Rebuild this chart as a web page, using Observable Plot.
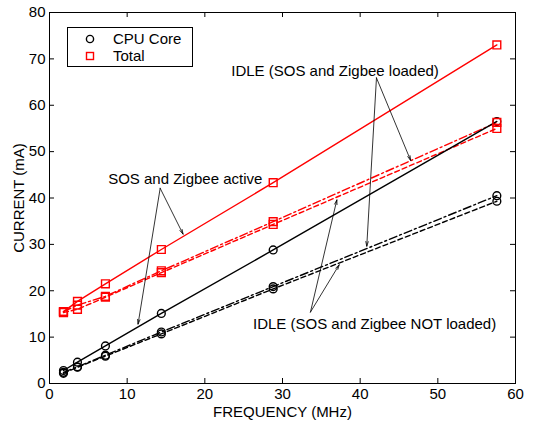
<!DOCTYPE html>
<html>
<head>
<meta charset="utf-8">
<script src="https://cdn.jsdelivr.net/npm/d3@7"></script>
<script src="https://cdn.jsdelivr.net/npm/@observablehq/plot@0.6"></script>
<style>
  html, body { margin: 0; padding: 0; background: #fff; }
  #wrap { position: relative; width: 533px; height: 422px; font-family: "Liberation Sans", Arial, sans-serif; }
  #legend { position: absolute; left: 67px; top: 27px; width: 124px; height: 38px; border: 1px solid #000; background: #fff; font-size: 15px; }
  .row { position: absolute; left: 0; height: 17px; line-height: 17px; }
  .row svg { position: absolute; left: 17px; top: 4px; }
  .row span { position: absolute; left: 45px; white-space: nowrap; }
</style>
</head>
<body>
<div id="wrap">
  <div id="chart"></div>
  <div id="legend">
    <div class="row" style="top:2px"><svg width="10" height="10"><circle cx="5" cy="5" r="3.6" fill="none" stroke="#000" stroke-width="1.4"/></svg><span>CPU Core</span></div>
    <div class="row" style="top:19px"><svg width="10" height="10"><rect x="1.5" y="1.5" width="7" height="7" fill="none" stroke="#ff0000" stroke-width="1.4"/></svg><span>Total</span></div>
  </div>
</div>
<script>
// ---- data ----
const freq = [1.8, 3.6, 7.2, 14.4, 28.8, 57.6];
const totalActive        = [15.5, 17.7, 21.5, 28.9, 43.3, 73.0];
const totalIdleLoaded    = [15.5, 16.9, 18.8, 24.3, 34.9, 56.3];
const totalIdleNotLoaded = [15.3, 16.0, 18.6, 23.9, 34.3, 55.0];
const cpuActive          = [2.8, 4.6, 8.1, 15.1, 28.8, 56.5];
const cpuIdleLoaded      = [2.4, 3.6, 6.1, 11.1, 20.9, 40.5];
const cpuIdleNotLoaded   = [2.2, 3.5, 5.9, 10.7, 20.4, 39.3];
const xTicks = [0, 10, 20, 30, 40, 50, 60];
const yTicks = [0, 10, 20, 30, 40, 50, 60, 70, 80];

const labelTexts = ["IDLE (SOS and Zigbee loaded)", "SOS and Zigbee active", "IDLE (SOS and Zigbee NOT loaded)"];
const labelX = [23.4, 7.55, 26.2];
const labelY = [67.3, 44.0, 12.8];
const arrowX1 = [14.25, 14.25, 42.1, 42.1, 33.6, 33.6];
const arrowY1 = [42.1, 42.1, 65.9, 65.9, 15.4, 15.4];
const arrowX2 = [11.4, 17.2, 46.5, 40.85, 37.0, 37.3];
const arrowY2 = [12.8, 32.2, 48.1, 29.6, 39.6, 25.6];

// ---- build tables ----
const seriesDefs = [
  {name: "totalActive", values: totalActive, group: "total", style: "solid"},
  {name: "totalIdleLoaded", values: totalIdleLoaded, group: "total", style: "dashdot"},
  {name: "totalIdleNotLoaded", values: totalIdleNotLoaded, group: "total", style: "dashed"},
  {name: "cpuActive", values: cpuActive, group: "cpu", style: "solid"},
  {name: "cpuIdleLoaded", values: cpuIdleLoaded, group: "cpu", style: "dashdot"},
  {name: "cpuIdleNotLoaded", values: cpuIdleNotLoaded, group: "cpu", style: "dashed"}
];
const colorOf = {total: "#ff0000", cpu: "#000000"};
const dashOf = {solid: null, dashed: "5,3", dashdot: "8,3,2,3"};
const rows = seriesDefs.flatMap(s => freq.map((f, i) => ({series: s.name, group: s.group, f, v: s.values[i]})));
const labels = labelTexts.map((t, i) => ({t, x: labelX[i], y: labelY[i]}));
const arrows = arrowX1.map((_, i) => ({x1: arrowX1[i], y1: arrowY1[i], x2: arrowX2[i], y2: arrowY2[i]}));

const W = 533, H = 422, mT = 12, mB = 39, mL = 49, mR = 18;
const fh = H - mT - mB, fw = W - mL - mR;
const tk = 5;

const marks = [
  Plot.frame({stroke: "#000", strokeWidth: 1}),
  Plot.tickX(xTicks.slice(1, -1), {x: d => d, insetTop: fh - tk, stroke: "#000"}),
  Plot.tickX(xTicks.slice(1, -1), {x: d => d, insetBottom: fh - tk, stroke: "#000"}),
  Plot.tickY(yTicks.slice(1, -1), {y: d => d, insetRight: fw - tk, stroke: "#000"}),
  Plot.tickY(yTicks.slice(1, -1), {y: d => d, insetLeft: fw - tk, stroke: "#000"}),
  Plot.axisX(xTicks, {anchor: "bottom", tickSize: 0, tickPadding: 5, label: null}),
  Plot.axisY(yTicks, {anchor: "left", tickSize: 0, tickPadding: 4, label: null}),
  Plot.text(["FREQUENCY (MHz)"], {frameAnchor: "bottom", dy: 29, lineAnchor: "middle", textAnchor: "middle", fontSize: 15}),
  Plot.text(["CURRENT (mA)"], {frameAnchor: "left", dx: -30, rotate: -90, textAnchor: "middle", lineAnchor: "middle", fontSize: 15})
];
for (const s of seriesDefs) {
  marks.push(Plot.line(rows.filter(r => r.series === s.name), {
    x: "f", y: "v", stroke: colorOf[s.group], strokeWidth: 1.4,
    strokeDasharray: dashOf[s.style]
  }));
}
marks.push(
  Plot.dot(rows.filter(r => r.group === "cpu"), {x: "f", y: "v", r: 3.9, stroke: colorOf.cpu, fill: "none", strokeWidth: 1.4}),
  Plot.dot(rows.filter(r => r.group === "total"), {x: "f", y: "v", r: 4.4, symbol: "square", stroke: colorOf.total, fill: "none", strokeWidth: 1.4}),
  Plot.arrow(arrows, {x1: "x1", y1: "y1", x2: "x2", y2: "y2", stroke: "#000", strokeWidth: 0.8, headLength: 9, headAngle: 30, bend: 0}),
  Plot.text(labels, {x: "x", y: "y", text: "t", textAnchor: "start", fontSize: 15, fill: "#000"})
);

const chart = Plot.plot({
  width: W, height: H,
  marginTop: mT, marginBottom: mB, marginLeft: mL, marginRight: mR,
  x: {domain: [0, 60]},
  y: {domain: [0, 80]},
  style: {fontFamily: '"Liberation Sans", Arial, sans-serif', fontSize: "15px", background: "#fff", color: "#000"},
  marks
});
document.getElementById("chart").appendChild(chart);
</script>
</body>
</html>
